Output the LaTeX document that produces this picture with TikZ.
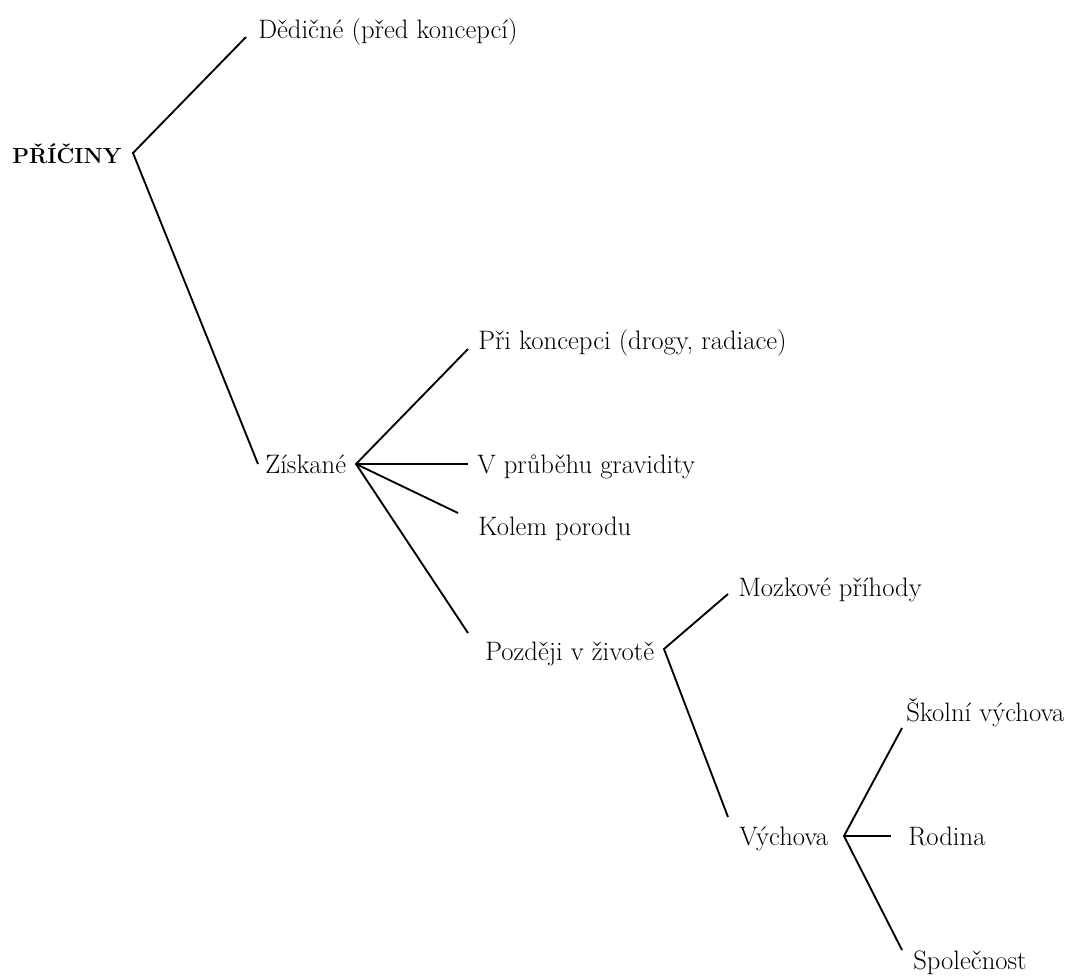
\documentclass[tikz,border=0pt]{standalone}
\usepackage{fontspec}
\begin{document}
\begin{tikzpicture}[x=0.75pt,y=-0.75pt,
  lbl/.style={anchor=base west,inner sep=0pt,font=\fontsize{20}{24}\selectfont},
  rootlbl/.style={anchor=base west,inner sep=0pt,font=\fontsize{16.4}{20}\selectfont\bfseries},
  branch/.style={draw=black,line width=1.4pt,line join=miter}]
\useasboundingbox (0,0) rectangle (1075,976);
% labels
\node[rootlbl] (pric) at (12,163) {PŘÍČINY};
\node[lbl] (ded) at (258,38) {Dědičné (před koncepcí)};
\node[lbl] (zisk) at (265,473) {Získané};
\node[lbl] (prik) at (478,349) {Při koncepci (drogy, radiace)};
\node[lbl] (grav) at (477,473) {V průběhu gravidity};
\node[lbl] (kol) at (478,535) {Kolem porodu};
\node[lbl] (poz) at (485,660) {Později v životě};
\node[lbl] (mozk) at (738,596) {Mozkové příhody};
\node[lbl] (vych) at (739,845) {Výchova};
\node[lbl] (skol) at (906,721) {Školní výchova};
\node[lbl] (rod) at (908,845) {Rodina};
\node[lbl] (spol) at (913,969) {Společnost};
% connector points
\coordinate (rv) at (133,153);
\coordinate (dedE) at (246,37);
\coordinate (ziskE) at (258,464);
\coordinate (zv) at (356,464);
\coordinate (prikE) at (468,349);
\coordinate (gravE) at (468,464);
\coordinate (kolE) at (458,513);
\coordinate (pozE) at (468,633);
\coordinate (pv) at (664,649);
\coordinate (mozkE) at (728,594);
\coordinate (vychE) at (728,817);
\coordinate (vv) at (844,836);
\coordinate (skolE) at (902,728);
\coordinate (rodE) at (891,836);
\coordinate (spolE) at (902,950);
% branches
\draw[branch] (dedE) -- (rv) -- (ziskE);
\draw[branch] (prikE) -- (zv) -- (pozE);
\draw[branch] (zv) -- (gravE);
\draw[branch] (zv) -- (kolE);
\draw[branch] (mozkE) -- (pv) -- (vychE);
\draw[branch] (skolE) -- (vv) -- (spolE);
\draw[branch] (vv) -- (rodE);
\end{tikzpicture}
\end{document}
